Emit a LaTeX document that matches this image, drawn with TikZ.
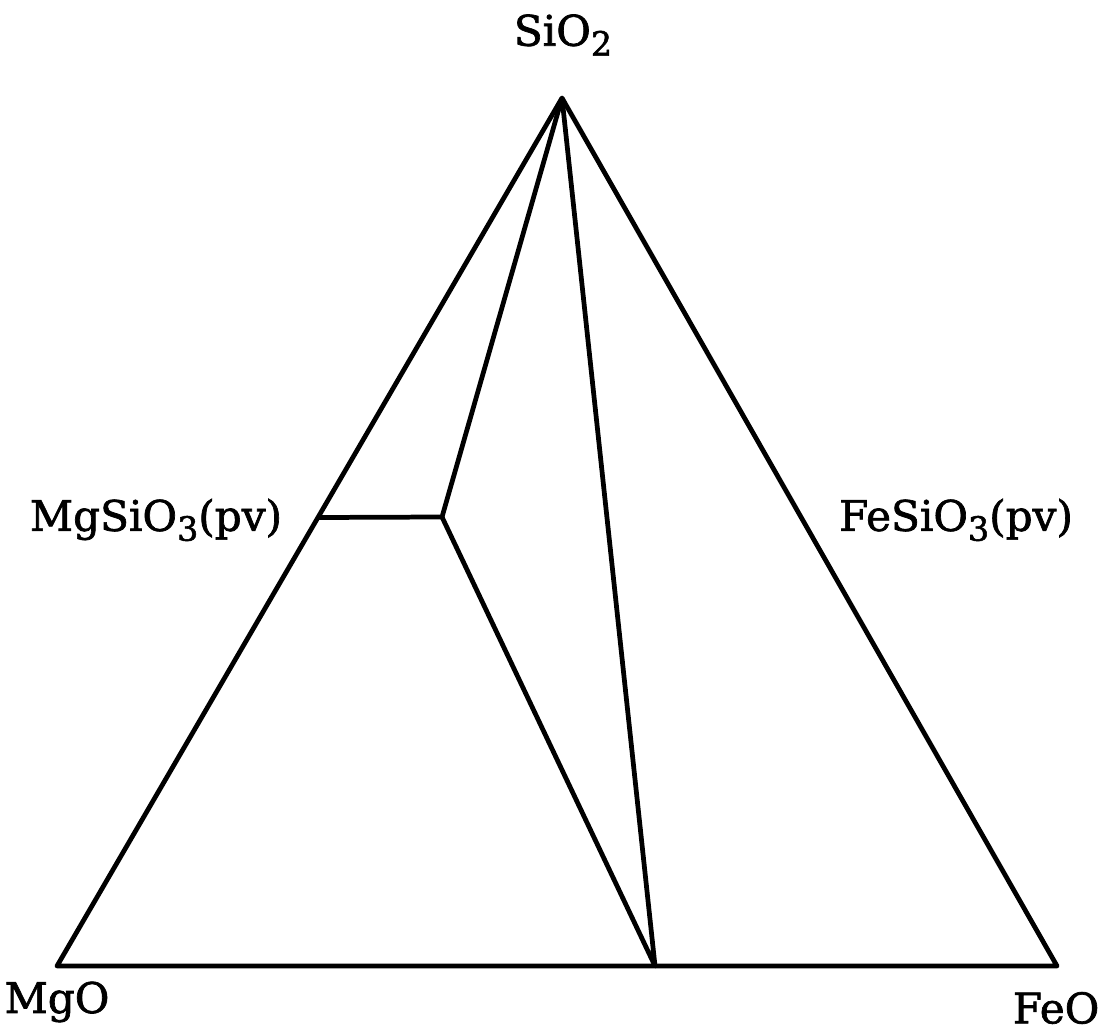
\documentclass[tikz,border=0pt]{standalone}
\usepackage{fontspec}
\setmainfont{DejaVu Serif}
\newfontfamily\lblfont[FakeBold=1.6]{DejaVu Serif}
\usepackage{tikz}
\usetikzlibrary{calc, positioning}

% chemical subscript in the label font
\newcommand{\chemsub}[1]{\raisebox{-0.45ex}{\fontsize{9.5}{10}\selectfont #1}}

\begin{document}
\begin{tikzpicture}[
    every node/.style={font=\lblfont\fontsize{12}{14}\selectfont},
    edge/.style={line width=1.35pt, line join=round},
  ]
  \useasboundingbox (0,0) rectangle (11.01,10.31);

  % Corners of the ternary diagram
  \coordinate (sio2) at (5.62,9.33);
  \coordinate (mgo) at (0.57,0.65);
  \coordinate (feo) at (10.57,0.65);

  % Phase boundary points
  \coordinate (mgpv) at ($(mgo)!0.5167!(sio2)$);
  \coordinate (kink) at (4.42,5.14);
  \coordinate (base) at (6.55,0.65);

  % Outer triangle
  \draw[edge] (mgo) -- (sio2) -- (feo) -- cycle;

  % Inner lines
  \draw[edge] (mgpv) -- (kink) -- (sio2);
  \draw[edge] (kink) -- (base) -- (sio2);

  % Labels
  \node (lsio2) at (5.63,9.96) {SiO\chemsub{2}};
  \node (lmgpv) at (1.56,5.11) {MgSiO\chemsub{3}(pv)};
  \node (lfepv) at (9.56,5.11) {FeSiO\chemsub{3}(pv)};
  \node (lmgo) at (0.57,0.29) {MgO};
  \node (lfeo) at (10.56,0.23) {FeO};
\end{tikzpicture}
\end{document}
